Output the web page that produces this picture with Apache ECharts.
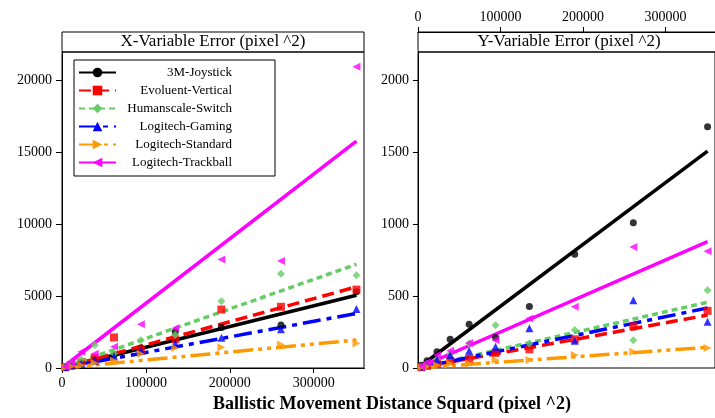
<!DOCTYPE html>
<html>
<head>
<meta charset="utf-8">
<script src="https://cdn.jsdelivr.net/npm/echarts@6/dist/echarts.min.js"></script>
<style>html,body{margin:0;padding:0;background:#fff;}#c{width:715px;height:418px;}</style>
</head>
<body>
<div id="c"></div>
<script>
// ---- data ----
const names = ['3M-Joystick', 'Evoluent-Vertical', 'Humanscale-Switch', 'Logitech-Gaming', 'Logitech-Standard', 'Logitech-Trackball'];
const distSq = [4000, 11000, 23000, 39000, 62000, 94000, 135000, 190000, 261000, 351000];

// X-variable error (pixel^2)
const xErr3M        = [60, 180, 350, 600, 900, 1400, 2520, 2820, 2990, 5300];
const xErrEvoluent  = [70, 200, 400, 700, 2130, 1300, 2000, 4070, 4260, 5460];
const xErrHumanscale= [80, 300, 600, 1600, 1000, 1940, 2290, 4650, 6570, 6460];
const xErrGaming    = [50, 150, 300, 500, 800, 1200, 1700, 2110, 2690, 4100];
const xErrStandard  = [30, 100, 200, 350, 500, 970, 1400, 1440, 1640, 1710];
const xErrTrackball = [100, 400, 1130, 1000, 1480, 3040, 2760, 7550, 7450, 20970];

// Y-variable error (pixel^2)
const yErr3M        = [20, 50, 113, 201, 305, 213, 428, 792, 1012, 1680];
const yErrEvoluent  = [5, 15, 30, 50, 65, 105, 130, 200, 290, 398];
const yErrHumanscale= [10, 30, 60, 100, 171, 297, 171, 264, 194, 542];
const yErrGaming    = [10, 30, 60, 90, 120, 148, 276, 190, 472, 322];
const yErrStandard  = [5, 10, 20, 30, 32, 56, 56, 90, 113, 140];
const yErrTrackball = [15, 40, 90, 120, 174, 194, 345, 426, 843, 812];

// linear fits: value at the end of the fitted range
const fitRange = [0, 351000];
const fitEndX = [5070, 5650, 7220, 3800, 1950, 15800];
const fitEndY = [1510, 368, 458, 418, 144, 880];

// tick labels
const xTicks = [0, 100000, 200000, 300000];
const yTicksLeft = [0, 5000, 10000, 15000, 20000];
const yTicksRight = [0, 500, 1000, 1500, 2000];

// ---- styles / layout ----
const colors = ['#000000', '#ff0000', '#66cc66', '#0000ff', '#ff9900', '#ff00ff'];
const symbols = ['circle', 'rect', 'diamond', 'triangle', 'path://M0,0L10,5L0,10Z', 'path://M10,0L0,5L10,10Z'];
const dashes = ['solid', [12, 6], [6, 4], [18, 6, 5, 6], [20, 5, 4, 5, 4, 5], 'solid'];
const FONT = 'Liberation Serif';
const PW = 302, PH = 316, PT = 52, LL = 62, RL = 418;

const xErrs = [xErr3M, xErrEvoluent, xErrHumanscale, xErrGaming, xErrStandard, xErrTrackball];
const yErrs = [yErr3M, yErrEvoluent, yErrHumanscale, yErrGaming, yErrStandard, yErrTrackball];

const series = [];
[[fitEndX, 0], [fitEndY, 1]].forEach(([ends, gi]) => {
  names.forEach((n, i) => {
    series.push({
      name: n, type: 'line', xAxisIndex: gi, yAxisIndex: gi,
      data: [[fitRange[0], 0], [fitRange[1], ends[i]]],
      showSymbol: false, symbol: symbols[i], symbolSize: 8,
      lineStyle: { color: colors[i], width: 3.5, type: dashes[i] },
      itemStyle: { color: colors[i] },
      silent: true, z: 2, animation: false
    });
  });
});
[[xErrs, 0], [yErrs, 1]].forEach(([vals, gi]) => {
  names.forEach((n, i) => {
    series.push({
      name: n, type: 'scatter', xAxisIndex: gi, yAxisIndex: gi,
      data: distSq.map((d, k) => [d, vals[i][k]]),
      symbol: symbols[i], symbolSize: i === 0 ? 7 : 8,
      itemStyle: { color: colors[i] },
      z: 3, animation: false
    });
  });
});

const plain = v => String(v);
function makeAxis(extra, ticks, len, margin) {
  return Object.assign({
    type: 'value',
    axisLine: { show: true, lineStyle: { color: '#000', width: 1 } },
    axisTick: { show: true, length: len, lineStyle: { color: '#000', width: 1 } },
    axisLabel: { color: '#000', fontFamily: FONT, fontSize: 14, margin: margin, formatter: plain, customValues: ticks },
    splitLine: { show: false }
  }, extra);
}

// white patches hiding the ticks ECharts adds at the (non-round) axis maxima
const tickMask = (x, y, w, h) => ({ type: 'rect', shape: { x: x, y: y, width: w, height: h }, style: { fill: '#fff' }, z: 50, silent: true });

const option = {
  animation: false,
  backgroundColor: '#fff',
  grid: [
    { left: LL, top: PT, width: PW, height: PH, show: true, borderColor: '#000', borderWidth: 1, backgroundColor: 'transparent' },
    { left: RL, top: PT, width: PW, height: PH, show: true, borderColor: '#000', borderWidth: 1, backgroundColor: 'transparent' }
  ],
  xAxis: [
    makeAxis({ gridIndex: 0, min: 0, max: 360000, interval: 100000, position: 'bottom' }, xTicks, 5, 8),
    Object.assign(makeAxis({ gridIndex: 1, min: 0, max: 360000, interval: 100000, position: 'top', offset: 20 }, xTicks, 5, 8),
      { axisLine: { show: true, onZero: false, lineStyle: { color: '#000', width: 1 } } })
  ],
  yAxis: [
    makeAxis({ gridIndex: 0, min: 0, max: 22000, interval: 5000 }, yTicksLeft, 6, 10),
    makeAxis({ gridIndex: 1, min: 0, max: 2200, interval: 500 }, yTicksRight, 5, 9)
  ],
  legend: {
    data: names, orient: 'vertical', left: 74, top: 60,
    padding: [6, 43, 7, 4], itemGap: 5, itemWidth: 37, itemHeight: 12,
    backgroundColor: '#fff', borderColor: '#000', borderWidth: 1,
    selectedMode: false,
    formatter: n => '{r|' + n + '}',
    textStyle: {
      color: '#000', fontFamily: FONT, fontSize: 13,
      rich: { r: { width: 111, align: 'right', fontFamily: FONT, fontSize: 13, color: '#000', lineHeight: 14 } }
    }
  },
  graphic: [
    { type: 'rect', shape: { x: LL, y: 32, width: PW, height: 20 }, style: { fill: '#fff', stroke: '#000', lineWidth: 1 }, z: -1 },
    { type: 'rect', shape: { x: RL, y: 32, width: PW, height: 20 }, style: { fill: '#fff', stroke: '#000', lineWidth: 1 }, z: -1 },
    { type: 'text', x: LL + PW / 2, y: 42, style: { text: 'X-Variable Error (pixel ^2)', font: '17px "Liberation Serif"', fill: '#000', align: 'center', verticalAlign: 'middle' }, z: 11 },
    { type: 'text', x: RL + PW / 2, y: 42, style: { text: 'Y-Variable Error (pixel ^2)', font: '17px "Liberation Serif"', fill: '#000', align: 'center', verticalAlign: 'middle' }, z: 11 },
    { type: 'text', x: 392, y: 404, style: { text: 'Ballistic Movement Distance Squard (pixel ^2)', font: 'bold 18px "Liberation Serif"', fill: '#000', align: 'center', verticalAlign: 'middle' }, z: 11 },
    tickMask(LL - 9, PT - 2.5, 8.4, 5),
    tickMask(RL - 8, PT - 2.5, 7.4, 5),
    tickMask(LL + PW - 3, PT + PH + 0.9, 6, 7)
  ],
  series: series
};

const chart = echarts.init(document.getElementById('c'), null, { renderer: 'canvas' });
chart.setOption(option);
</script>
</body>
</html>
